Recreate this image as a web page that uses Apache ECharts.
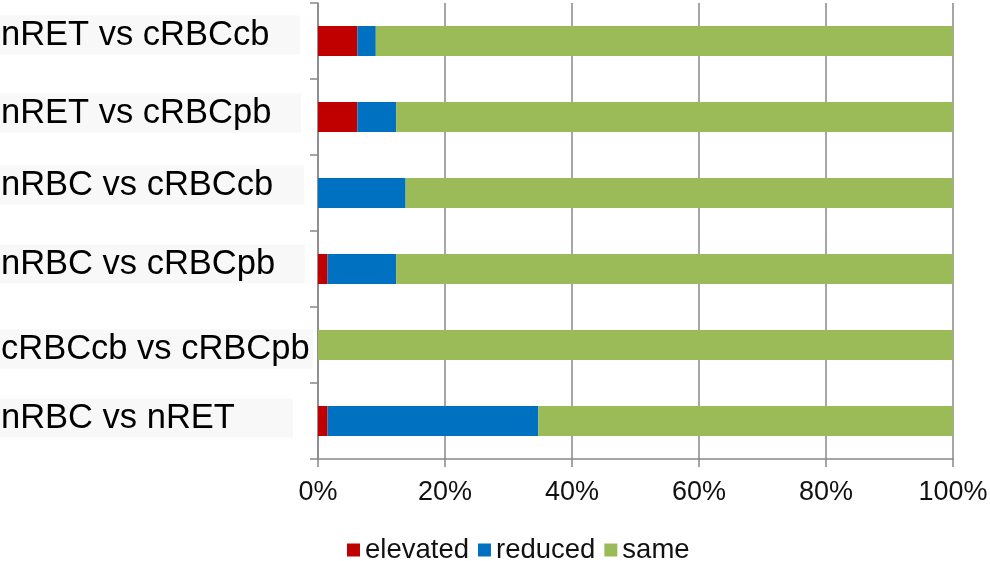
<!DOCTYPE html>
<html>
<head>
<meta charset="utf-8">
<script src="https://cdn.jsdelivr.net/npm/echarts@6/dist/echarts.min.js"></script>
<style>
    html, body {margin: 0; padding: 0; background: #fff;}
    #chart {width: 990px; height: 561px;}
</style>
</head>
<body>
<div id="chart"></div>
<script>
    // 类别（从上到下）
    const categories = ['nRET vs cRBCcb', 'nRET vs cRBCpb', 'nRBC vs cRBCcb', 'nRBC vs cRBCpb', 'cRBCcb vs cRBCpb', 'nRBC vs nRET'];
    const seriesNames = ['elevated', 'reduced', 'same'];
    const elevated = [6.2, 6.2, 0, 1.5, 0, 1.5];
    const reduced = [2.9, 6.1, 13.8, 10.8, 0, 33.2];
    const same = [90.9, 87.7, 86.2, 87.7, 100, 65.3];
    const xTicks = [0, 20, 40, 60, 80, 100];

    const colors = ['#C00000', '#0070C0', '#9BBB59'];
    const grey = '#888888';
    // 标签底色框宽度和上下偏移（负数向上）
    const boxWidths = [299, 300, 303, 304, 312, 292];
    const boxShift = [-6, -4, -8, -5, 4, -3];

    const rich = {};
    boxWidths.forEach((w, i) => {
        rich['l' + i] = {
            width: w, height: 39, lineHeight: 39, padding: [0, 0, 0, 1],
            backgroundColor: '#f8f8f8', fontSize: 34.5, color: '#000',
            fontFamily: 'Liberation Sans, Arial, sans-serif'
        };
        const h = Math.abs(boxShift[i]) * 2;
        rich['sp' + i] = {height: h, lineHeight: h, fontSize: 1};
    });

    const chart = echarts.init(document.getElementById('chart'));
    const S = (name, data, color) => ({
        name, type: 'bar', stack: 'total', barWidth: 30,
        itemStyle: {color}, data
    });

    chart.setOption({
        animation: false,
        textStyle: {fontFamily: 'Liberation Sans, Arial, sans-serif'},
        grid: {left: 318, right: 37, top: 3, bottom: 102, containLabel: false, outerBoundsMode: 'none'},
        legend: {
            data: seriesNames, left: 342, top: 531, icon: 'rect',
            itemWidth: 13, itemHeight: 13, itemGap: 9,
            textStyle: {fontSize: 27.5, color: '#111'}
        },
        xAxis: {
            type: 'value', min: xTicks[0], max: xTicks[xTicks.length - 1], interval: 20,
            axisLine: {show: true, lineStyle: {color: grey, width: 1.5}},
            axisTick: {show: true, length: 8, lineStyle: {color: grey, width: 1.5}},
            splitLine: {show: true, lineStyle: {color: grey, width: 1.5}},
            axisLabel: {formatter: '{value}%', fontSize: 27, color: '#111', margin: 20}
        },
        yAxis: {
            type: 'category', inverse: true, data: categories,
            axisLine: {show: true, lineStyle: {color: grey, width: 1.5}},
            axisTick: {show: true, length: 8, lineStyle: {color: grey, width: 1.5}},
            axisLabel: {
                align: 'left', margin: 318,
                formatter: (v, i) => {
                    const t = '{l' + i + '|' + v + '}', sp = '{sp' + i + '| }';
                    return boxShift[i] < 0 ? t + '\n' + sp : sp + '\n' + t;
                },
                rich
            }
        },
        series: [
            S(seriesNames[0], elevated, colors[0]),
            S(seriesNames[1], reduced, colors[1]),
            S(seriesNames[2], same, colors[2])
        ]
    });
</script>
</body>
</html>
